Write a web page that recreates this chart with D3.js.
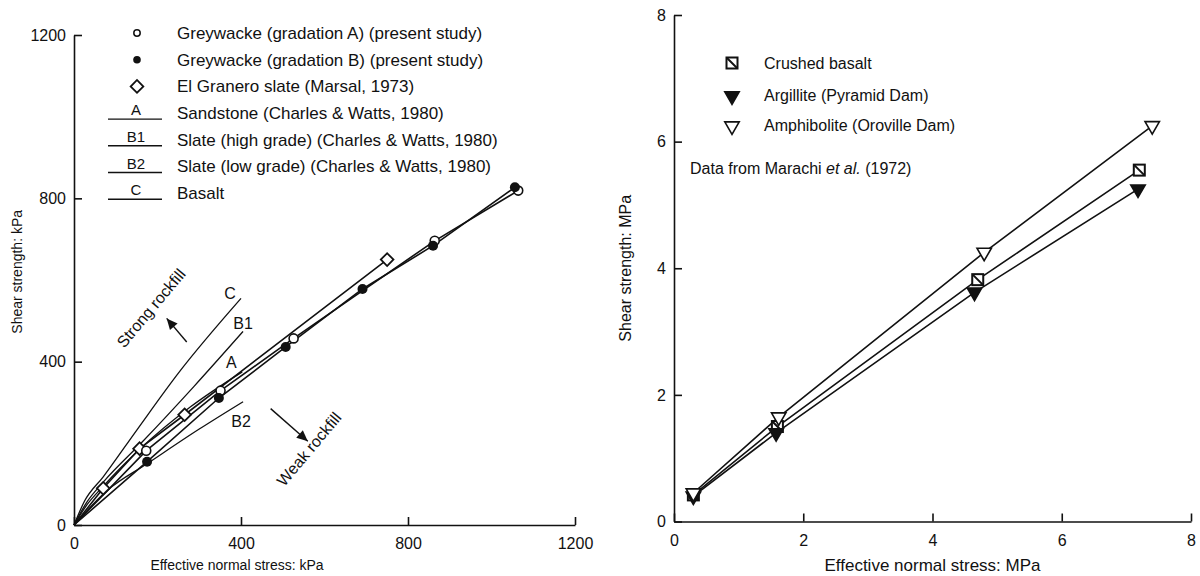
<!DOCTYPE html>
<html>
<head>
<meta charset="utf-8">
<script src="https://cdn.jsdelivr.net/npm/d3@7"></script>
<style>
body { margin:0; background:#fff; }
text { font-family:"Liberation Sans", Arial, Helvetica, sans-serif; fill:#111; }
.axis path, .axis line { stroke:#111; stroke-width:1.6; }
.axis text { font-size:16px; fill:#111; }
</style>
</head>
<body>
<div id="chart"></div>
<script>
// ---- left panel (kPa) ----
var leftTicks = [0, 400, 800, 1200];
var greyA = [[0,0],[173,182],[351,329],[526,457],[864,696],[1064,819]];      // open circles
var greyB = [[0,0],[175,155],[347,311],[507,436],[691,578],[860,684],[1056,827]]; // filled circles
var granero = [[0,0],[70,90],[157,187],[265,270],[750,650]];                 // diamonds
// Charles & Watts curves
var curveC  = [[0,0],[25,58],[70,118],[150,232],[250,372],[400,555]];
var curveB1 = [[0,0],[30,55],[70,105],[165,205],[287,339],[405,474]];
var curveA  = [[0,0],[30,48],[70,95],[160,188],[280,290],[403,375]];
var curveB2 = [[0,0],[80,85],[175,150],[300,235],[405,302]];
var curveNames = ["C","B1","A","B2"];
var legendLeft = [
  "Greywacke (gradation A) (present study)",
  "Greywacke (gradation B) (present study)",
  "El Granero slate (Marsal, 1973)",
  "Sandstone (Charles & Watts, 1980)",
  "Slate (high grade) (Charles & Watts, 1980)",
  "Slate (low grade) (Charles & Watts, 1980)",
  "Basalt"];
var legendLeftKeys = ["", "", "", "A", "B1", "B2", "C"];

// ---- right panel (MPa) ----
var rightTicks = [0, 2, 4, 6, 8];
var basalt    = [[0.3,0.42],[1.6,1.5],[4.7,3.82],[7.2,5.55]];
var argillite = [[0.3,0.40],[1.58,1.4],[4.65,3.62],[7.18,5.25]];
var amphib    = [[0.3,0.45],[1.62,1.65],[4.8,4.25],[7.4,6.25]];
var legendRight = ["Crushed basalt", "Argillite (Pyramid Dam)", "Amphibolite (Oroville Dam)"];

var svg = d3.select("#chart").append("svg")
  .attr("width", 1200).attr("height", 576)
  .style("background", "#fff");

var xL = d3.scaleLinear().domain([0,1200]).range([74,575]);
var yL = d3.scaleLinear().domain([0,1200]).range([525,35]);
var xR = d3.scaleLinear().domain([0,8]).range([674,1191]);
var yR = d3.scaleLinear().domain([0,8]).range([521.5,15]);

function axes(x, y, ticks, x0y, y0x) {
  svg.append("g").attr("class","axis")
    .attr("transform","translate(0,"+x0y+")")
    .call(d3.axisBottom(x).tickValues(ticks).tickSizeInner(-8).tickSizeOuter(0).tickPadding(13).tickFormat(d3.format("d")));
  svg.append("g").attr("class","axis")
    .attr("transform","translate("+y0x+",0)")
    .call(d3.axisLeft(y).tickValues(ticks).tickSizeInner(-8).tickSizeOuter(0).tickPadding(8).tickFormat(d3.format("d")));
}
axes(xL, yL, leftTicks, yL(0), xL(0));
axes(xR, yR, rightTicks, yR(0), xR(0));

// axis titles
svg.append("text").attr("x", 237).attr("y", 570)
  .attr("text-anchor","middle").style("font-size","14px").text("Effective normal stress: kPa");
svg.append("text").attr("transform","translate(22,"+yL(620)+") rotate(-90)")
  .attr("text-anchor","middle").style("font-size","14px").text("Shear strength: kPa");
svg.append("text").attr("x", (xR(0)+xR(8))/2).attr("y", 571)
  .attr("text-anchor","middle").style("font-size","17px").text("Effective normal stress: MPa");
svg.append("text").attr("transform","translate(631,"+yR(4)+") rotate(-90)")
  .attr("text-anchor","middle").style("font-size","16px").text("Shear strength: MPa");

// ---- left panel marks ----
var lineL = d3.line().x(function(d){return xL(d[0]);}).y(function(d){return yL(d[1]);});
var smoothL = d3.line().curve(d3.curveMonotoneX).x(function(d){return xL(d[0]);}).y(function(d){return yL(d[1]);});

[curveC, curveB1, curveA, curveB2].forEach(function(c, i) {
  svg.append("path").attr("d", smoothL(c)).attr("fill","none").attr("stroke","#111").attr("stroke-width",1.3);
  var last = c[c.length-1];
  var off = [[-11,-5],[0,-8],[-11,-9],[-2,20]][i];
  svg.append("text").attr("x", xL(last[0])+off[0]).attr("y", yL(last[1])+off[1]).attr("dy","0.35em")
    .attr("text-anchor","middle").style("font-size","16px").text(curveNames[i]);
});

[granero, greyA, greyB].forEach(function(s) {
  svg.append("path").attr("d", lineL(s)).attr("fill","none").attr("stroke","#111").attr("stroke-width",1.6);
});

var diamond = d3.symbol().type(d3.symbolSquare).size(80);
svg.selectAll(".dia").data(granero.slice(1)).enter().append("path")
  .attr("d", diamond)
  .attr("transform", function(d){return "translate("+xL(d[0])+","+yL(d[1])+") rotate(45)";})
  .attr("fill","#fff").attr("stroke","#111").attr("stroke-width",1.8);
svg.selectAll(".ca").data(greyA.slice(1)).enter().append("circle")
  .attr("cx", function(d){return xL(d[0]);}).attr("cy", function(d){return yL(d[1]);})
  .attr("r", 4.5).attr("fill","#fff").attr("stroke","#111").attr("stroke-width",1.6);
svg.selectAll(".cb").data(greyB.slice(1)).enter().append("circle")
  .attr("cx", function(d){return xL(d[0]);}).attr("cy", function(d){return yL(d[1]);})
  .attr("r", 5).attr("fill","#111");

// annotations
function arrow(x1,y1,x2,y2) {
  svg.append("line").attr("x1",x1).attr("y1",y1).attr("x2",x2).attr("y2",y2)
    .attr("stroke","#111").attr("stroke-width",1.4);
  var a = Math.atan2(y2-y1, x2-x1), L = 11, W = 5;
  var bx = x2 - L*Math.cos(a), by = y2 - L*Math.sin(a);
  svg.append("path").attr("d", "M"+x2+","+y2+"L"+(bx+W*Math.sin(a))+","+(by-W*Math.cos(a))+
    "L"+(bx-W*Math.sin(a))+","+(by+W*Math.cos(a))+"Z").attr("fill","#111");
}
arrow(xL(270), yL(448), xL(222), yL(506));
arrow(xL(471), yL(285), xL(560), yL(205));
svg.append("text").attr("transform","translate(151,308) rotate(-50)")
  .attr("text-anchor","middle").attr("dy","0.35em").style("font-size","16px").text("Strong rockfill");
svg.append("text").attr("transform","translate(309,449) rotate(-50)")
  .attr("text-anchor","middle").attr("dy","0.35em").style("font-size","16px").text("Weak rockfill");

// left legend
var lg = svg.append("g");
legendLeft.forEach(function(t, i) {
  var y = 33 + i*26.7;
  lg.append("text").attr("x",177).attr("y",y).attr("dy","0.35em").style("font-size","17px").text(t);
  if (i === 0) lg.append("circle").attr("cx",137).attr("cy",y).attr("r",3.2).attr("fill","#fff").attr("stroke","#111").attr("stroke-width",1.5);
  if (i === 1) lg.append("circle").attr("cx",137).attr("cy",y).attr("r",3.8).attr("fill","#111");
  if (i === 2) lg.append("path").attr("d", diamond).attr("transform","translate(137,"+y+") rotate(45)")
      .attr("fill","#fff").attr("stroke","#111").attr("stroke-width",1.8);
  if (i >= 3) {
    lg.append("line").attr("x1",108).attr("x2",162).attr("y1",y+6).attr("y2",y+6).attr("stroke","#111").attr("stroke-width",1.4);
    lg.append("text").attr("x",136).attr("y",y+2).attr("text-anchor","middle").style("font-size","15px").text(legendLeftKeys[i]);
  }
});

// ---- right panel marks ----
var lineR = d3.line().x(function(d){return xR(d[0]);}).y(function(d){return yR(d[1]);});
[amphib, basalt, argillite].forEach(function(s) {
  svg.append("path").attr("d", lineR(s)).attr("fill","none").attr("stroke","#111").attr("stroke-width",1.6);
});

var tri = d3.symbol().type(d3.symbolTriangle).size(90);
function squareMark(g, x, y) {
  g.append("rect").attr("x",x-5.5).attr("y",y-5.5).attr("width",11).attr("height",11)
    .attr("fill","#fff").attr("stroke","#111").attr("stroke-width",2);
  g.append("line").attr("x1",x-5).attr("y1",y-5).attr("x2",x+5).attr("y2",y+5)
    .attr("stroke","#111").attr("stroke-width",2);
}
function triMark(g, x, y, filled) {
  g.append("path").attr("d", tri).attr("transform","translate("+x+","+y+") rotate(180)")
    .attr("fill", filled ? "#111" : "#fff").attr("stroke","#111").attr("stroke-width",1.6);
}
basalt.forEach(function(d){ squareMark(svg, xR(d[0]), yR(d[1])); });
argillite.forEach(function(d){ triMark(svg, xR(d[0]), yR(d[1]), true); });
amphib.forEach(function(d){ triMark(svg, xR(d[0]), yR(d[1]), false); });

// right legend
var rl = svg.append("g");
legendRight.forEach(function(t, i) {
  var y = [63, 95, 125][i];
  rl.append("text").attr("x",764).attr("y",y).attr("dy","0.35em").style("font-size","16px").text(t);
  if (i === 0) squareMark(rl, 732, y);
  else triMark(rl, 732, y+1, i === 1);
});
var note = svg.append("text").attr("x",690).attr("y",168).attr("dy","0.35em").style("font-size","16px");
note.append("tspan").text("Data from Marachi ");
note.append("tspan").style("font-style","italic").text("et al.");
note.append("tspan").text(" (1972)");
</script>
</body>
</html>
